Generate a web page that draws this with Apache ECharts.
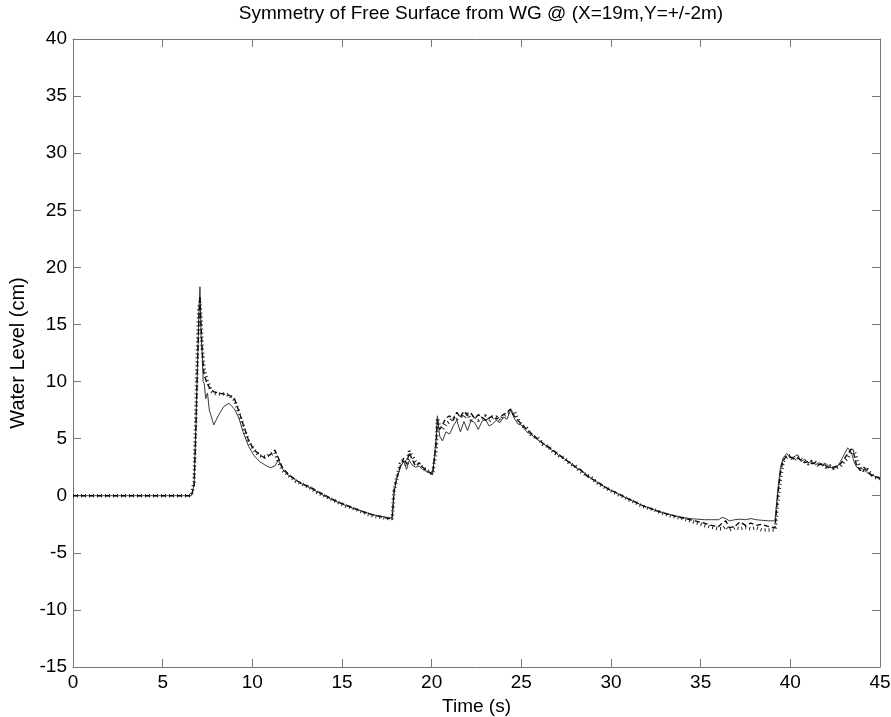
<!DOCTYPE html>
<html>
<head>
<meta charset="utf-8">
<script src="https://cdn.jsdelivr.net/npm/echarts@6/dist/echarts.min.js"></script>
<style>
html,body{margin:0;padding:0;background:#fff;}
#c{width:891px;height:717px;}
</style>
</head>
<body>
<div id="c"></div>
<script>
const titleText = 'Symmetry of Free Surface from WG @ (X=19m,Y=+/-2m)';
const xName = 'Time (s)';
const yName = 'Water Level (cm)';
const xTicks = [0,5,10,15,20,25,30,35,40,45];
const yTicks = [-15,-10,-5,0,5,10,15,20,25,30,35,40];

const time = [0,6.6,6.75,6.85,6.95,7.02,7.08,7.14,7.2,7.26,7.32,7.4,7.5,7.6,7.7,7.85,8.1,8.4,8.7,9.0,9.25,9.5,9.8,10.1,10.4,10.7,11.0,11.25,11.45,11.7,12.0,12.4,12.8,13.2,13.6,14.0,14.4,14.8,15.2,15.6,16.0,16.4,16.8,17.2,17.6,17.8,17.9,18.05,18.25,18.45,18.6,18.75,18.9,19.1,19.3,19.5,19.75,20.05,20.25,20.32,20.45,20.6,20.8,21.0,21.2,21.4,21.6,21.8,22.0,22.2,22.4,22.6,22.8,23.0,23.2,23.4,23.6,23.8,24.0,24.2,24.4,24.6,24.8,25.0,25.3,25.6,25.9,26.2,26.5,26.8,27.1,27.4,27.7,28.0,28.3,28.6,28.9,29.2,29.5,29.8,30.1,30.4,30.7,31.0,31.3,31.6,31.9,32.2,32.5,32.8,33.1,33.4,33.7,34.0,34.4,34.8,35.2,35.6,36.0,36.2,36.4,36.6,36.9,37.2,37.5,37.8,38.1,38.4,38.8,39.15,39.3,39.45,39.6,39.8,40.0,40.2,40.4,40.6,40.8,41.0,41.2,41.4,41.6,41.8,42.0,42.2,42.4,42.6,42.8,43.0,43.2,43.4,43.55,43.7,43.9,44.1,44.3,44.5,44.7,45.0];

const solidLevel = [0,0,1.0,6,12,16,18.3,14,12.5,10,9.8,8.5,9.0,7.5,7.0,6.2,7.0,7.8,8.1,7.6,6.8,5.5,4.3,3.5,3.0,2.7,2.45,2.6,3.1,2.3,1.8,1.4,1.0,0.7,0.35,0.0,-0.3,-0.6,-0.85,-1.1,-1.3,-1.5,-1.7,-1.8,-1.95,-1.9,0.2,1.5,2.5,3.0,2.3,3.1,2.7,2.5,2.6,2.3,2.1,1.85,5.0,7.0,5.2,4.8,5.6,5.4,6.1,6.6,5.6,6.5,5.7,6.6,6.4,5.8,6.5,6.7,6.1,6.3,6.6,6.4,6.9,6.7,7.5,6.8,6.3,6.2,5.6,5.3,4.9,4.6,4.2,3.9,3.5,3.25,2.9,2.5,2.2,1.9,1.5,1.2,0.9,0.6,0.4,0.15,-0.1,-0.3,-0.55,-0.75,-0.95,-1.1,-1.3,-1.45,-1.55,-1.7,-1.8,-1.9,-2.0,-2.05,-2.1,-2.1,-2.1,-1.9,-2.0,-2.2,-2.1,-2.05,-2.1,-2.0,-2.1,-2.15,-2.2,-2.2,0.5,2.5,3.3,3.7,3.3,3.4,3.6,3.0,3.2,2.9,3.0,2.7,2.9,2.6,2.8,2.5,2.4,2.5,3.0,3.6,4.2,3.8,3.0,2.5,2.4,2.3,2.0,1.9,1.7,1.6];

const dashedLevel = [0,0,0.8,5.5,12,15.5,17.5,15,13,11.5,10.5,10.2,9.8,9.5,9.3,9.1,9.0,8.9,8.8,8.5,7.4,6.2,4.8,4.0,3.6,3.3,3.6,4.0,3.3,2.4,1.9,1.4,1.0,0.8,0.4,0.1,-0.25,-0.55,-0.8,-1.05,-1.3,-1.55,-1.7,-1.85,-2.0,-1.95,0.5,1.5,2.6,3.3,2.8,3.8,3.2,2.6,2.9,2.5,2.2,1.9,4.5,6.5,5.8,6.2,6.8,7.0,6.6,7.3,6.9,7.4,7.0,7.2,6.8,7.1,6.9,6.6,6.8,7.0,6.7,6.9,7.1,7.3,7.6,7.0,6.6,6.3,5.8,5.4,5.0,4.6,4.3,3.95,3.6,3.2,2.9,2.55,2.3,1.8,1.5,1.25,0.95,0.65,0.4,0.2,-0.05,-0.3,-0.5,-0.75,-0.95,-1.1,-1.3,-1.45,-1.6,-1.7,-1.85,-1.95,-2.1,-2.25,-2.4,-2.6,-2.7,-2.4,-2.2,-2.8,-2.7,-2.3,-2.6,-2.4,-2.6,-2.5,-2.7,-2.8,0.0,2.0,3.1,3.5,3.4,3.2,3.3,3.1,2.9,3.0,2.8,2.9,2.7,2.8,2.6,2.4,2.5,2.6,2.8,3.2,3.7,4.1,3.6,2.6,2.2,2.5,2.1,1.8,1.7,1.5];

const dottedLevel = [0,0,1.2,7,13.5,16.5,17.0,15.5,13,12,11.0,10.5,10.0,9.6,9.2,9.0,8.9,8.9,8.8,8.4,7.3,6.0,4.7,4.0,3.5,3.4,3.6,3.8,3.0,2.2,1.8,1.3,1.0,0.7,0.3,0.0,-0.3,-0.6,-0.9,-1.1,-1.35,-1.6,-1.8,-1.9,-2.0,-2.0,0.4,1.6,2.8,3.2,2.6,3.9,3.5,3.0,2.7,2.5,2.2,1.9,4.0,6.8,6.0,5.8,6.3,6.5,6.9,6.7,7.1,6.8,7.2,6.6,7.0,6.6,6.8,7.0,6.5,6.8,6.9,6.6,7.0,7.2,7.3,7.4,6.7,6.2,5.9,5.2,5.1,4.5,4.3,3.8,3.5,3.3,2.8,2.6,2.1,1.85,1.6,1.15,0.85,0.6,0.35,0.1,-0.1,-0.35,-0.55,-0.8,-1.0,-1.15,-1.3,-1.5,-1.65,-1.8,-1.9,-2.0,-2.2,-2.4,-2.6,-2.75,-2.9,-2.9,-2.7,-3.0,-2.8,-2.9,-2.8,-2.9,-2.8,-3.0,-3.0,-3.0,-0.5,1.5,3.0,3.4,3.5,3.1,3.4,3.2,3.0,2.8,3.0,2.9,2.6,2.9,2.5,2.6,2.4,2.5,2.6,3.0,3.3,3.9,4.0,3.2,2.4,2.2,2.3,1.9,1.6,1.5];

function pairs(vals){ return time.map((t,i)=>[t, vals[i]]); }

const fontFam = '"Liberation Sans", Arial, sans-serif';
const axisCol = '#777';
const tickStyle = {show:true, inside:true, length:8, lineStyle:{color:axisCol, width:1}};

const chart = echarts.init(document.getElementById('c'), null, {renderer:'canvas'});
chart.setOption({
  animation:false,
  backgroundColor:'#fff',
  title:{
    text:titleText, left:476, top:-1, textAlign:'center',
    textStyle:{fontFamily:fontFam, fontSize:19, fontWeight:'normal', color:'#000'}
  },
  grid:{left:73, right:11, top:39, bottom:50, containLabel:false, outerBoundsMode:'none'},
  xAxis:[{
    type:'value', min:xTicks[0], max:xTicks[xTicks.length-1], interval:5,
    position:'bottom',
    name:xName, nameLocation:'middle', nameGap:30,
    nameTextStyle:{fontFamily:fontFam, fontSize:19, color:'#000'},
    axisLine:{show:true, onZero:false, lineStyle:{color:axisCol, width:1}},
    axisTick:tickStyle,
    axisLabel:{fontFamily:fontFam, fontSize:19, color:'#000', margin:6},
    splitLine:{show:false}
  },{
    type:'value', min:xTicks[0], max:xTicks[xTicks.length-1], interval:5,
    position:'top',
    axisLine:{show:true, onZero:false, lineStyle:{color:axisCol, width:1}},
    axisTick:tickStyle,
    axisLabel:{show:false},
    splitLine:{show:false}
  }],
  yAxis:[{
    type:'value', min:yTicks[0], max:yTicks[yTicks.length-1], interval:5,
    position:'left',
    name:yName, nameLocation:'middle', nameGap:42, nameRotate:90,
    nameTextStyle:{fontFamily:fontFam, fontSize:20, color:'#000'},
    axisLine:{show:true, onZero:false, lineStyle:{color:axisCol, width:1}},
    axisTick:tickStyle,
    axisLabel:{fontFamily:fontFam, fontSize:19, color:'#000', margin:6},
    splitLine:{show:false}
  },{
    type:'value', min:yTicks[0], max:yTicks[yTicks.length-1], interval:5,
    position:'right',
    axisLine:{show:true, onZero:false, lineStyle:{color:axisCol, width:1}},
    axisTick:tickStyle,
    axisLabel:{show:false},
    splitLine:{show:false}
  }],
  series:[
    {type:'line', name:'solid', data:pairs(solidLevel), xAxisIndex:0, yAxisIndex:0,
     symbol:'none', lineStyle:{color:'#3a3a3a', width:1, type:'solid'}, z:3},
    {type:'line', name:'dashed', data:pairs(dashedLevel), xAxisIndex:0, yAxisIndex:0,
     symbol:'none', lineStyle:{color:'#000', width:1.3, type:[5,3]}, z:4},
    {type:'line', name:'dotted', data:pairs(dottedLevel), xAxisIndex:0, yAxisIndex:0,
     symbol:'none', lineStyle:{color:'#222', width:3.5, type:[1,3], cap:'butt'}, z:5}
  ]
});
</script>
</body>
</html>
